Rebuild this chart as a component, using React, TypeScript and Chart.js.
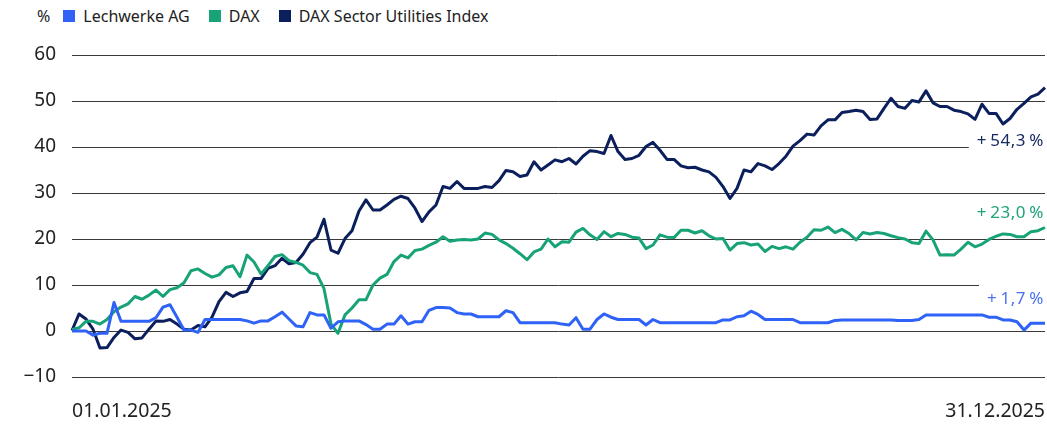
import { useEffect, useRef } from 'react';
import { Chart, registerables } from 'chart.js';

Chart.register(...registerables);

const SERIES_NAMES = ['Lechwerke AG', 'DAX', 'DAX Sector Utilities Index'];
const COLORS = ['#2f62f6', '#17a277', '#0b1f5c'];
const LABEL_COLORS = ['#4a72f2', '#1ea27a', '#1a2b63'];
const X_TICKS = ['01.01.2025', '31.12.2025'];
const Y_MIN = -10;
const Y_MAX = 60;
const Y_STEP = 10;

const LECHWERKE = [
  0, 0, 0, -0.9, -0.5, -0.5, 6.2, 2.1, 2.1, 2.1,
  2.1, 2.1, 2.9, 5.2, 5.7, 3.0, 0.2, 0.2, -0.3, 2.5,
  2.5, 2.5, 2.5, 2.5, 2.5, 2.2, 1.7, 2.2, 2.2, 3.1,
  4.1, 2.6, 1.1, 0.9, 4.0, 3.5, 3.5, 0.6, 2.0, 2.2,
  2.2, 2.2, 1.4, 0.4, 0.4, 1.5, 1.5, 3.3, 1.5, 2.0,
  2.0, 4.5, 5.1, 5.1, 5.0, 4.0, 3.7, 3.7, 3.1, 3.1,
  3.1, 3.1, 4.4, 4.0, 1.8, 1.8, 1.8, 1.8, 1.8, 1.8,
  1.5, 1.3, 2.9, 0.4, 0.4, 2.5, 3.7, 3.0, 2.5, 2.5,
  2.5, 2.5, 1.3, 2.5, 1.8, 1.8, 1.8, 1.8, 1.8, 1.8,
  1.8, 1.8, 1.8, 2.4, 2.4, 3.1, 3.3, 4.3, 3.6, 2.5,
  2.5, 2.5, 2.5, 2.5, 1.8, 1.8, 1.8, 1.8, 1.8, 2.3,
  2.4, 2.4, 2.4, 2.4, 2.4, 2.4, 2.4, 2.4, 2.3, 2.3,
  2.3, 2.5, 3.5, 3.5, 3.5, 3.5, 3.5, 3.5, 3.5, 3.5,
  3.5, 3.0, 3.0, 2.4, 2.4, 2.0, 0.2, 1.7, 1.7, 1.7,
];

const DAX = [
  0.3, 0.7, 2.1, 2.1, 1.5, 2.5, 4.2, 5.2, 5.9, 7.5,
  6.9, 7.8, 8.9, 7.5, 9.0, 9.4, 10.5, 13.1, 13.5, 12.5,
  11.7, 12.2, 13.8, 14.2, 11.8, 16.5, 15.0, 12.4, 14.2, 16.2,
  16.6, 15.3, 14.9, 14.3, 12.7, 12.3, 9.2, 1.5, -0.5, 3.5,
  5.0, 6.8, 6.8, 10.0, 11.5, 12.3, 15.1, 16.5, 15.9, 17.5,
  17.8, 18.6, 19.3, 20.5, 19.5, 19.8, 19.9, 19.8, 20.0, 21.3,
  21.0, 19.8, 19.0, 18.0, 16.8, 15.5, 17.2, 17.8, 20.0, 18.3,
  19.4, 19.3, 21.5, 22.3, 20.9, 19.9, 21.6, 20.5, 21.2, 21.0,
  20.4, 20.2, 17.9, 18.7, 20.9, 20.4, 20.3, 21.9, 21.9, 21.3,
  21.8, 20.7, 20.0, 20.1, 17.6, 19.0, 19.2, 18.7, 18.9, 17.3,
  18.4, 17.9, 18.3, 17.8, 19.3, 20.4, 22.0, 21.9, 22.6, 21.4,
  22.1, 21.2, 19.8, 21.4, 21.1, 21.4, 21.2, 20.7, 20.3, 20.0,
  19.2, 19.0, 21.7, 19.8, 16.5, 16.6, 16.5, 17.8, 19.3, 18.3,
  18.9, 19.9, 20.6, 21.1, 21.0, 20.5, 20.5, 21.6, 21.8, 22.5,
];

const UTILITIES = [
  0.1, 3.7, 2.6, 0.4, -3.7, -3.6, -1.4, 0.2, -0.3, -1.7,
  -1.5, 0.4, 2.2, 2.1, 2.5, 1.5, 0.4, 0.2, 1.2, 0.9,
  3.0, 6.4, 8.4, 7.5, 8.3, 8.6, 11.4, 11.4, 13.6, 14.2,
  15.8, 14.6, 14.9, 16.7, 19.2, 20.4, 24.3, 17.6, 16.9, 20.1,
  21.8, 26.1, 28.5, 26.3, 26.3, 27.4, 28.6, 29.3, 28.8, 26.7,
  23.8, 25.9, 27.4, 31.4, 31.0, 32.5, 31.0, 31.0, 31.0, 31.4,
  31.2, 32.7, 34.9, 34.6, 33.6, 33.9, 36.8, 35.0, 36.1, 37.2,
  36.8, 37.5, 36.3, 38.0, 39.2, 39.0, 38.6, 42.5, 39.0, 37.3,
  37.5, 38.2, 40.1, 41.0, 39.3, 37.3, 37.3, 35.9, 35.5, 35.6,
  35.0, 34.6, 33.4, 31.4, 28.8, 31.0, 35.0, 34.6, 36.4, 35.9,
  35.1, 36.4, 38.0, 40.2, 41.4, 42.8, 42.6, 44.6, 45.9, 45.9,
  47.5, 47.7, 48.0, 47.7, 46.0, 46.1, 48.4, 50.6, 48.8, 48.4,
  50.1, 49.8, 52.2, 49.6, 48.8, 48.8, 48.0, 47.7, 47.2, 46.0,
  49.3, 47.3, 47.3, 45.0, 46.2, 48.2, 49.5, 50.9, 51.5, 52.9,
];

const SERIES = [LECHWERKE, DAX, UTILITIES];
const END_LABELS = ['+\u20091,7\u2009%', '+\u200923,0\u2009%', '+\u200954,3\u2009%'];
const END_LABEL_AT = [7.0, 25.7, 41.3];

const FONT = '"Noto Sans", sans-serif';

const endLabelPlugin = {
  id: 'endLabels',
  beforeDatasetsDraw(chart: any) {
    const { ctx, chartArea, scales } = chart;
    ctx.save();
    ctx.font = `17px ${FONT}`;
    (ctx as any).letterSpacing = '0.5px';
    ctx.textAlign = 'right';
    ctx.textBaseline = 'middle';
    END_LABELS.forEach((t, i) => {
      const y = scales.y.getPixelForValue(END_LABEL_AT[i]);
      const w = ctx.measureText(t).width;
      const right = chartArea.right - 1;
      ctx.fillStyle = '#ffffff';
      ctx.fillRect(right - w - 8, y - 16, w + 12, 26);
      ctx.fillStyle = LABEL_COLORS[i];
      ctx.fillText(t, right, y);
    });
    ctx.restore();
  },
};

export default function App() {
  const canvasRef = useRef<HTMLCanvasElement | null>(null);

  useEffect(() => {
    if (!canvasRef.current) return;
    const n = UTILITIES.length;
    const labels = Array.from({ length: n }, (_, i) => String(i));
    const chart = new Chart(canvasRef.current, {
      type: 'line',
      data: {
        labels,
        datasets: SERIES.map((s, i) => ({
          label: SERIES_NAMES[i],
          data: s,
          borderColor: COLORS[i],
          backgroundColor: COLORS[i],
          borderWidth: 3,
          pointRadius: 0,
          tension: 0,
          borderJoinStyle: 'round' as const,
          order: i,
        })),
      },
      options: {
        animation: false,
        responsive: false,
        maintainAspectRatio: false,
        layout: { padding: { left: 0, right: 2, top: 55, bottom: 0 } },
        plugins: { legend: { display: false }, tooltip: { enabled: false } },
        scales: {
          x: {
            type: 'category',
            offset: false,
            grid: { display: false, drawTicks: false },
            border: { display: false },
            ticks: {
              autoSkip: false,
              maxRotation: 0,
              minRotation: 0,
              align: 'inner',
              padding: 23,
              color: '#222',
              font: { family: FONT, size: 19.5 },
              callback: (_v: any, idx: number) =>
                idx === 0 ? X_TICKS[0] : idx === n - 1 ? X_TICKS[1] : '',
            },
            afterFit: (s: any) => {
              s.height = 48;
              s.paddingLeft = 0;
              s.paddingRight = 0;
            },
          },
          y: {
            min: Y_MIN,
            max: Y_MAX,
            grid: { color: '#3a3a3a', lineWidth: 1, drawTicks: false },
            border: { display: false },
            ticks: {
              stepSize: Y_STEP,
              padding: 16,
              color: '#222',
              font: { family: FONT, size: 19 },
              callback: (v: any) => (Number(v) < 0 ? '\u2212' + Math.abs(Number(v)) : String(v)),
            },
            afterFit: (s: any) => {
              s.width = 72;
            },
          },
        },
      },
      plugins: [endLabelPlugin],
    });
    return () => chart.destroy();
  }, []);

  return (
    <div style={{ position: 'fixed', left: 0, top: 0, width: 1047, height: 425, background: '#fff' }}>
      <div
        style={{
          position: 'absolute',
          left: 37,
          top: 4,
          height: 24,
          display: 'flex',
          alignItems: 'center',
          fontFamily: FONT,
          fontSize: 16,
          color: '#222',
          whiteSpace: 'nowrap',
        }}
      >
        <span style={{ marginRight: 13 }}>%</span>
        {SERIES_NAMES.map((name, i) => (
          <span key={name} style={{ display: 'flex', alignItems: 'center', marginRight: 19 }}>
            <span style={{ width: 12, height: 12, background: COLORS[i], marginRight: 8, display: 'inline-block' }} />
            <span>{name}</span>
          </span>
        ))}
      </div>
      <canvas ref={canvasRef} width={1047} height={425} style={{ position: 'absolute', left: 0, top: 0 }} />
    </div>
  );
}
